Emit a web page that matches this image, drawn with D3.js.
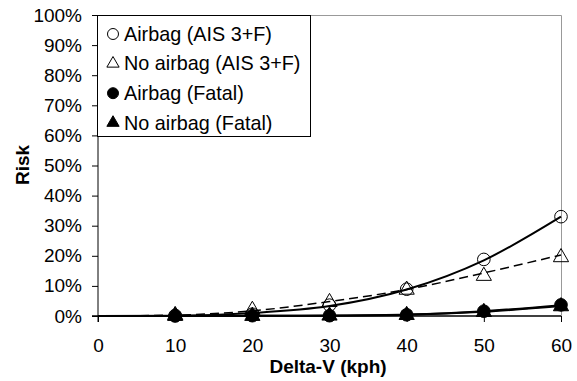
<!DOCTYPE html>
<html>
<head>
<meta charset="utf-8">
<script src="https://cdn.jsdelivr.net/npm/d3@7"></script>
<style>
  html, body { margin: 0; padding: 0; background: #fff; }
  svg { display: block; font-family: "Liberation Sans", Arial, sans-serif; }
</style>
</head>
<body>
<svg id="chart" width="577" height="381"></svg>
<script>
// Delta-V groups (kph)
const speeds = [10, 20, 30, 40, 50, 60];

// Observed risk (%) per group
const airbagAIS = [0.2, 0.6, 3.6, 8.9, 18.8, 33.0];
const noAirbagAIS = [0.3, 2.0, 4.6, 8.7, 13.3, 19.5];
const airbagFatal = [0.0, 0.1, 0.1, 0.4, 1.6, 3.7];
const noAirbagFatal = [0.0, 0.0, 0.1, 0.3, 1.3, 3.2];

// Fitted risk curves (%) sampled from 0 to 60 kph
const fitSpeeds = [0, 10, 20, 30, 40, 50, 60];
const airbagAISFit = [0, 0.1, 1.0, 3.3, 8.8, 18.5, 33.0];
const noAirbagAISFit = [0, 0.3, 1.7, 4.8, 8.8, 14.3, 20.3];
const airbagFatalFit = [0, 0.0, 0.05, 0.15, 0.5, 1.6, 3.6];
const noAirbagFatalFit = [0, 0.0, 0.05, 0.12, 0.4, 1.4, 3.3];

const xTicks = [0, 10, 20, 30, 40, 50, 60];
const yTicks = [0, 10, 20, 30, 40, 50, 60, 70, 80, 90, 100];

const legendLabels = ["Airbag (AIS 3+F)", "No airbag (AIS 3+F)", "Airbag (Fatal)", "No airbag (Fatal)"];

const FONT = 19;
const svg = d3.select("#chart");
const plotLeft = 98, plotRight = 561, plotTop = 15, plotBottom = 316;

const x = d3.scaleLinear().domain([0, 60]).range([plotLeft, plotRight]);
const y = d3.scaleLinear().domain([0, 100]).range([plotBottom, plotTop]);

// plot frame (top and right edges in grey)
svg.append("path")
  .attr("d", `M${plotLeft},${plotTop + 0.5}H${plotRight + 0.5}V${plotBottom + 6}`)
  .attr("fill", "none").attr("stroke", "#999").attr("stroke-width", 1);

// axes
const yAxis = d3.axisLeft(y).tickValues(yTicks).tickSize(6).tickPadding(10)
  .tickFormat(d => d + "%");
const gy = svg.append("g").attr("transform", `translate(${plotLeft},0)`).call(yAxis);
const xAxis = d3.axisBottom(x).tickValues(xTicks).tickSize(6).tickPadding(17)
  .tickFormat(d3.format("d"));
const gx = svg.append("g").attr("transform", `translate(0,${plotBottom})`).call(xAxis);

[gy, gx].forEach(g => {
  g.select(".domain").remove();
  g.selectAll(".tick line").attr("stroke", "#000");
  g.selectAll("text").attr("font-size", FONT).attr("fill", "#000")
    .attr("font-family", "Liberation Sans, Arial, sans-serif");
});
svg.append("line").attr("x1", plotLeft).attr("x2", plotLeft).attr("y1", plotTop).attr("y2", plotBottom + 6)
  .attr("stroke", "#000");
svg.append("line").attr("x1", plotLeft - 6).attr("x2", plotRight).attr("y1", plotBottom).attr("y2", plotBottom)
  .attr("stroke", "#000").attr("stroke-width", 1.5);

// axis titles
svg.append("text").attr("x", 328).attr("y", 373).attr("text-anchor", "middle")
  .attr("font-size", FONT).attr("font-weight", "bold").text("Delta-V (kph)");
svg.append("text").attr("transform", "translate(29,165) rotate(-90)")
  .attr("text-anchor", "middle").attr("font-size", FONT).attr("font-weight", "bold").text("Risk");

// marker symbols
const circle = d3.symbol().type(d3.symbolCircle).size(125);
const triangle = d3.symbol().type(d3.symbolTriangle).size(100);

function markers(values, sym, fill) {
  svg.append("g").selectAll("path").data(values).join("path")
    .attr("d", sym)
    .attr("transform", (d, i) => `translate(${x(speeds[i])},${y(d)})`)
    .attr("fill", fill).attr("stroke", "#000").attr("stroke-width", 1);
}

markers(noAirbagFatal, triangle, "#000");
markers(airbagFatal, circle, "#000");
markers(noAirbagAIS, triangle, "none");
markers(airbagAIS, circle, "none");

// fitted curves
const line = d3.line().x((d, i) => x(fitSpeeds[i])).y(d => y(d)).curve(d3.curveMonotoneX);
function curve(values, dash, width) {
  svg.append("path").datum(values).attr("d", line)
    .attr("fill", "none").attr("stroke", "#000").attr("stroke-width", width)
    .attr("stroke-dasharray", dash);
}
curve(noAirbagFatalFit, null, 2);
curve(airbagFatalFit, null, 2);
curve(noAirbagAISFit, "9,5", 1.5);
curve(airbagAISFit, null, 2);

// legend
const lg = svg.append("g");
lg.append("rect").attr("x", 97.5).attr("y", 15.5).attr("width", 213).attr("height", 121)
  .attr("fill", "#fff").attr("stroke", "#000");
const legendCircle = d3.symbol().type(d3.symbolCircle).size(95);
const legendTriangle = d3.symbol().type(d3.symbolTriangle).size(65);
const legendSyms = [[legendCircle, "none"], [legendTriangle, "none"], [legendCircle, "#000"], [legendTriangle, "#000"]];
legendLabels.forEach((t, i) => {
  const cy = 34 + i * 29.6;
  lg.append("path").attr("d", legendSyms[i][0])
    .attr("transform", `translate(113,${cy})`)
    .attr("fill", legendSyms[i][1]).attr("stroke", "#000");
  lg.append("text").attr("x", 124).attr("y", cy + 6.7).attr("font-size", 19.8).text(t);
});
</script>
</body>
</html>
